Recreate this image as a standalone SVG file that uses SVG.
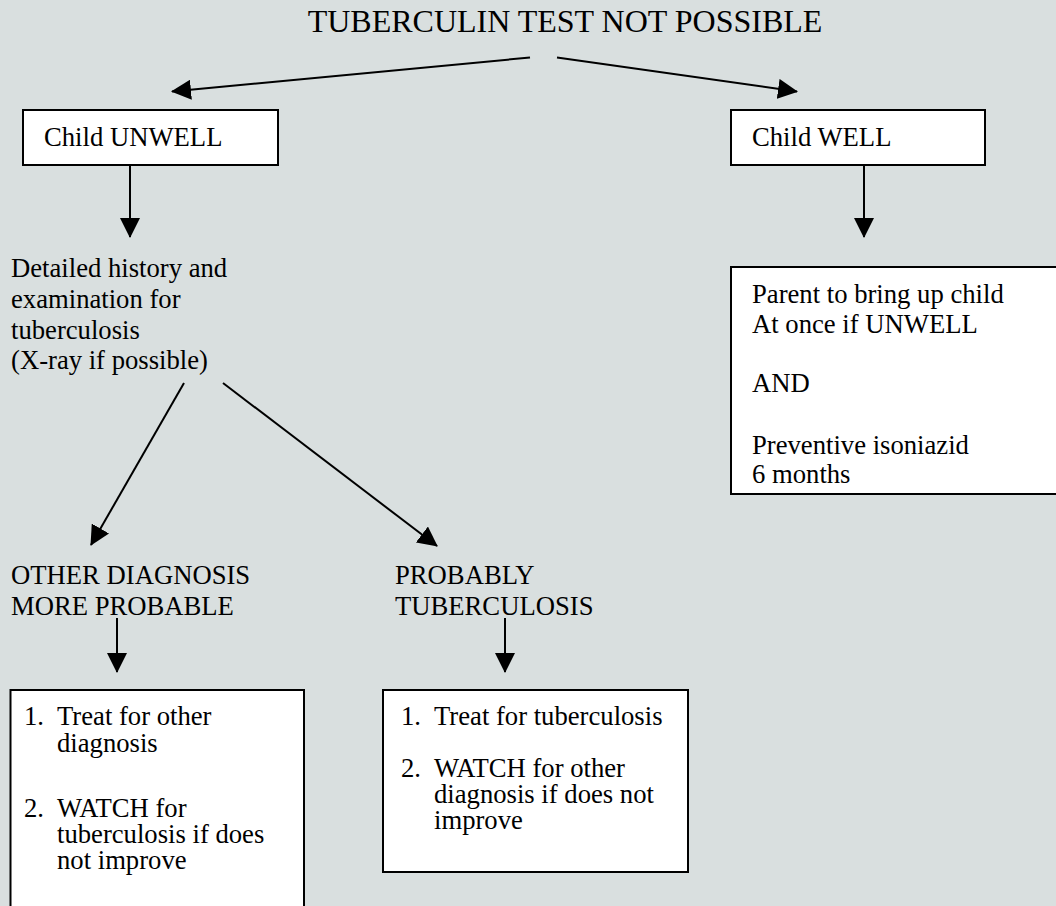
<svg xmlns="http://www.w3.org/2000/svg" width="1056" height="906" viewBox="0 0 1056 906">
  <style>
    text { font-family: "Liberation Serif", "Times New Roman", serif; fill: #000; }
    .title { font-size: 32px; }
    .body { font-size: 26.67px; }
    .box { fill: #fff; stroke: #000; stroke-width: 2; }
    .edge { stroke: #000; stroke-width: 2; fill: none; marker-end: url(#head); }
  </style>
  <defs>
    <marker id="head" viewBox="0 0 20 20" markerWidth="20" markerHeight="20" refX="19" refY="10" orient="auto" markerUnits="userSpaceOnUse">
      <path d="M0,0 L20,10 L0,20 z" fill="#000"/>
    </marker>
  </defs>

  <rect width="1056" height="906" fill="#d9dfdf"/>

  <g id="title">
    <text class="title" x="565" y="32" text-anchor="middle">TUBERCULIN TEST NOT POSSIBLE</text>
  </g>

  <g id="child-unwell">
    <rect class="box" x="23" y="110" width="255" height="55"/>
    <text class="body" x="44" y="146">Child UNWELL</text>
  </g>

  <g id="child-well">
    <rect class="box" x="731" y="110" width="254" height="55"/>
    <text class="body" x="752" y="146">Child WELL</text>
  </g>

  <g id="history">
    <text class="body" x="11" y="277">Detailed history and</text>
    <text class="body" x="11" y="308">examination for</text>
    <text class="body" x="11" y="339">tuberculosis</text>
    <text class="body" x="11" y="369">(X-ray if possible)</text>
  </g>

  <g id="well-advice">
    <rect class="box" x="731" y="267" width="330" height="227"/>
    <text class="body" x="752" y="303">Parent to bring up child</text>
    <text class="body" x="752" y="333">At once if UNWELL</text>
    <text class="body" x="752" y="392">AND</text>
    <text class="body" x="752" y="454">Preventive isoniazid</text>
    <text class="body" x="752" y="483">6 months</text>
  </g>

  <g id="other-diagnosis">
    <text class="body" x="11" y="584">OTHER DIAGNOSIS</text>
    <text class="body" x="11" y="615">MORE PROBABLE</text>
  </g>

  <g id="probably-tb">
    <text class="body" x="395" y="584">PROBABLY</text>
    <text class="body" x="395" y="615">TUBERCULOSIS</text>
  </g>

  <g id="treat-other">
    <rect class="box" x="10.5" y="690" width="293.5" height="240"/>
    <text class="body" x="24" y="725">1.</text>
    <text class="body" x="57" y="725">Treat for other</text>
    <text class="body" x="57" y="752">diagnosis</text>
    <text class="body" x="24" y="817">2.</text>
    <text class="body" x="57" y="817">WATCH for</text>
    <text class="body" x="57" y="843">tuberculosis if does</text>
    <text class="body" x="57" y="869">not improve</text>
  </g>

  <g id="treat-tb">
    <rect class="box" x="383" y="690" width="305" height="182"/>
    <text class="body" x="401" y="725">1.</text>
    <text class="body" x="434" y="725">Treat for tuberculosis</text>
    <text class="body" x="401" y="777">2.</text>
    <text class="body" x="434" y="777">WATCH for other</text>
    <text class="body" x="434" y="803">diagnosis if does not</text>
    <text class="body" x="434" y="829">improve</text>
  </g>

  <g id="connectors">
    <line class="edge" x1="530" y1="57.5" x2="172" y2="91.5"/>
    <line class="edge" x1="557" y1="57.5" x2="797" y2="91.5"/>
    <line class="edge" x1="130" y1="165" x2="130" y2="237"/>
    <line class="edge" x1="864" y1="165" x2="864" y2="237"/>
    <line class="edge" x1="184" y1="383" x2="91" y2="545"/>
    <line class="edge" x1="223" y1="383" x2="437" y2="546"/>
    <line class="edge" x1="117" y1="618" x2="117" y2="672"/>
    <line class="edge" x1="505" y1="618" x2="505" y2="672"/>
  </g>
</svg>
